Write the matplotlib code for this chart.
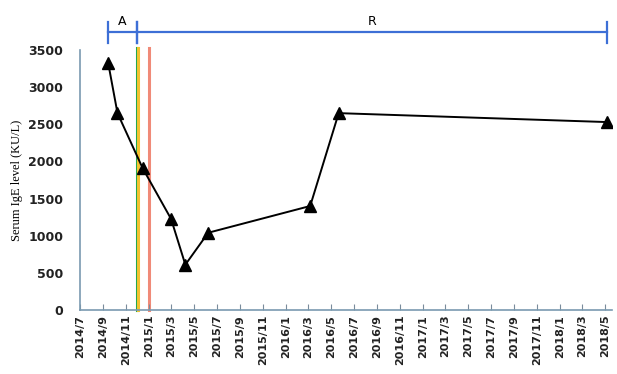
import datetime as dt
import matplotlib
matplotlib.use('Agg')
import matplotlib.pyplot as plt
import matplotlib.dates as mdates
from matplotlib.ticker import FuncFormatter

dates = ['2014-09-14', '2014-10-09', '2014-12-15', '2015-03-01', '2015-04-08',
         '2015-06-08', '2016-03-06', '2016-05-21', '2018-05-06']
ige = [3330, 2650, 1910, 1225, 610, 1040, 1400, 2650, 2530]

# vertical event lines
event_dates = ['2014-11-29', '2014-12-03', '2015-01-02']
event_colors = ['#1fa84f', '#f3c22f', '#f08a78']

# phase brackets: label, start, end
phases = [('A', '2014-09-14', '2014-11-29'), ('R', '2014-11-29', '2018-05-06')]

def d(s):
  return dt.datetime.strptime(s, '%Y-%m-%d')

x = [d(s) for s in dates]

fig = plt.figure(figsize = (6.17, 3.74), dpi = 100)
ax = fig.add_axes([80 / 617, 64 / 374, 532 / 617, 260 / 374])

for s, c in zip(event_dates, event_colors):
  ax.plot([d(s), d(s)], [0, 3530], color = c, lw = 2.2, clip_on = False, zorder = 1)

ax.plot(x, ige, color = 'black', lw = 1.4, marker = '^', markersize = 8, zorder = 3)

ax.set_xlim(d('2014-07-01'), d('2018-05-20'))
ax.set_ylim(0, 3500)
ax.set_yticks(range(0, 3501, 500))

ax.xaxis.set_major_locator(mdates.MonthLocator(bymonth = [1, 3, 5, 7, 9, 11]))
ax.xaxis.set_major_formatter(FuncFormatter(
  lambda v, pos: '{}/{}'.format(mdates.num2date(v).year, mdates.num2date(v).month)))
plt.setp(ax.get_xticklabels(), rotation = 90, fontsize = 8, fontweight = 'bold', color = '#222222')
plt.setp(ax.get_yticklabels(), fontsize = 9, fontweight = 'bold', color = '#222222')
ax.tick_params(axis = 'x', length = 4, direction = 'in', color = '#7a8c9c')
ax.tick_params(axis = 'y', length = 0, pad = 12)

for side in ['top', 'right']:
  ax.spines[side].set_visible(False)
for side in ['left', 'bottom']:
  ax.spines[side].set_color('#7a9ab0')
  ax.spines[side].set_linewidth(1.2)

ax.set_ylabel('Serum IgE level (KU/L)', family = 'Liberation Serif', fontsize = 9, labelpad = 4)

# phase brackets above the plot
yb = 3740
for label, s, e in phases:
  ax.plot([d(s), d(e)], [yb, yb], color = '#3d6fd6', lw = 1.6, clip_on = False)
  for t in [s, e]:
    ax.plot([d(t), d(t)], [yb - 140, yb + 140], color = '#3d6fd6', lw = 1.6, clip_on = False)
  mid = d(s) + (d(e) - d(s)) / 2
  ax.text(mid, yb + 50, label, ha = 'center', va = 'bottom', fontsize = 9, clip_on = False)

fig.savefig('out.png', dpi = 100)
